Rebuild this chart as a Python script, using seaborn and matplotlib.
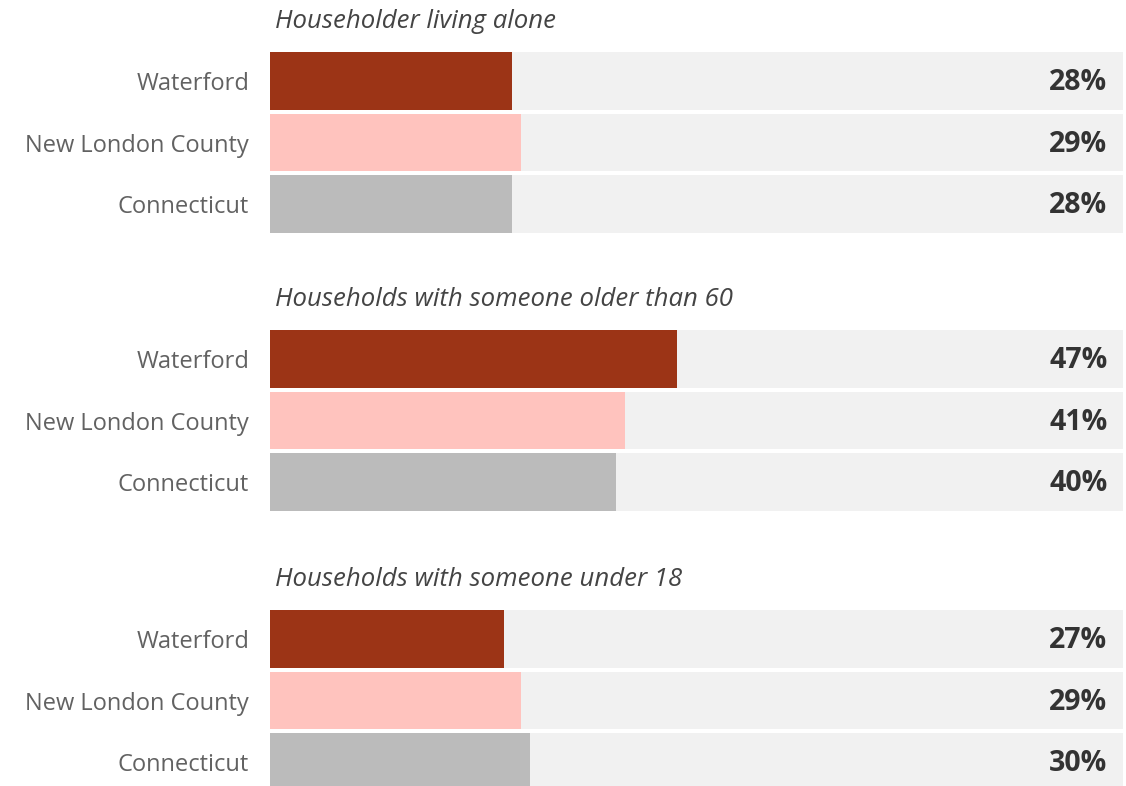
import matplotlib
matplotlib.use("Agg")
import matplotlib.pyplot as plt
import seaborn as sns
import pandas as pd

# Data
regions = ["Waterford", "New London County", "Connecticut"]
panel_titles = [
    "Householder living alone",
    "Households with someone older than 60",
    "Households with someone under 18",
]
living_alone = [28, 29, 28]
older_than_60 = [47, 41, 40]
under_18 = [27, 29, 30]
panel_values = [living_alone, older_than_60, under_18]

bar_colors = ["#9c3416", "#ffc3be", "#bbbbbb"]
track_color = "#f1f1f1"

sns.set_theme(style="white")
plt.rcParams["font.family"] = ["Open Sans", "DejaVu Sans"]

W, H = 1126, 786
fig = plt.figure(figsize=(W / 100, H / 100), dpi=100)
fig.patch.set_facecolor("white")

left_px, right_px = 270, 1123
x_max = 98.6            # axis end; the grey track fills the whole axis
row_px = 61.5
first_centres = [81, 359, 639]

for title, vals, c0 in zip(panel_titles, panel_values, first_centres):
    top = c0 - row_px / 2
    height = 3 * row_px
    ax = fig.add_axes([left_px / W, 1 - (top + height) / H,
                       (right_px - left_px) / W, height / H])
    df = pd.DataFrame({"region": regions, "value": vals, "track": [x_max] * 3})
    # grey background track
    sns.barplot(data=df, x="track", y="region", color=track_color,
                width=0.94, ax=ax, orient="h", saturation=1, linewidth=0)
    sns.barplot(data=df, x="value", y="region", hue="region",
                palette=bar_colors, width=0.94, ax=ax, orient="h",
                saturation=1, legend=False, linewidth=0)
    ax.set_xlim(0, x_max)
    ax.set_ylim(2.5, -0.5)
    ax.set_xlabel("")
    ax.set_ylabel("")
    ax.set_xticks([])
    ax.tick_params(axis="y", length=0, pad=15, labelsize=17, labelcolor="#626262")
    for s in ax.spines.values():
        s.set_visible(False)
    for i, v in enumerate(vals):
        ax.text(96.8, i + 0.03, f"{v}%", ha="right", va="center", fontsize=20.5,
                fontweight="bold", color="#333333")
    ax.text(0.6, -0.5 - 29 / row_px, title, ha="left", va="center",
            fontsize=18.5, style="italic", color="#444444")

fig.savefig("out.png", dpi=100)
